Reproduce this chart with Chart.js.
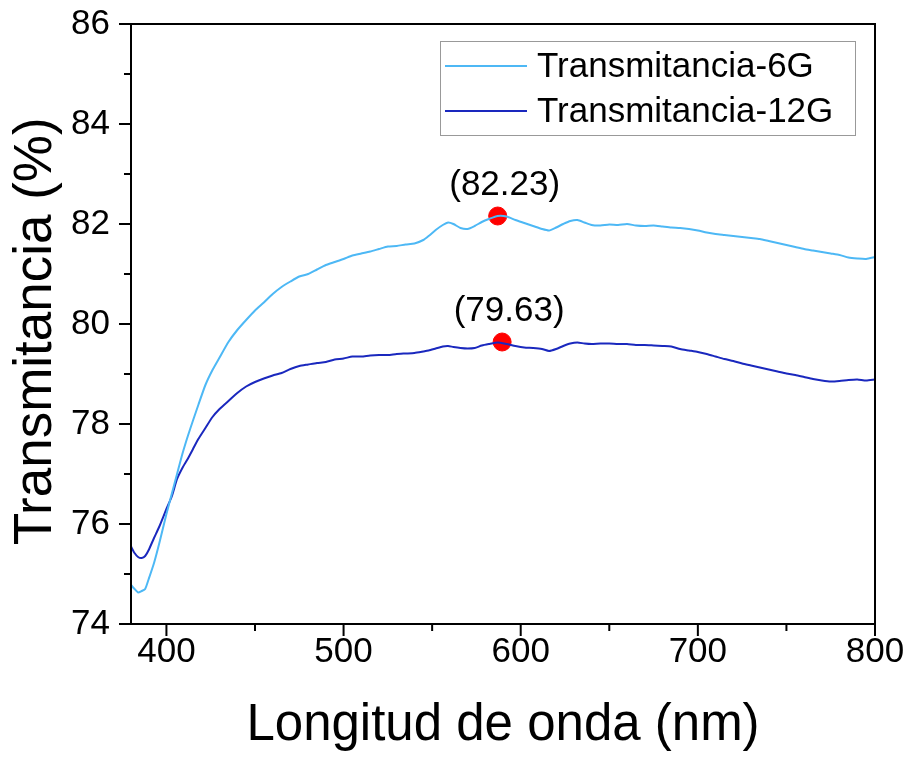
<!DOCTYPE html>
<html>
<head>
<meta charset="utf-8">
<script src="https://cdn.jsdelivr.net/npm/chart.js@4.4.1/dist/chart.umd.min.js"></script>
<style>
  html, body { margin: 0; padding: 0; background: #fff; }
</style>
</head>
<body>
<canvas id="chart" width="909" height="759"></canvas>
<script>
/* ============================================================
   TRANSMITANCIA 6G / 12G
   ============================================================ */

const wavelengths = [380, 382, 384, 386, 388, 390, 393, 396, 400, 403, 406, 409, 412, 415, 418, 422, 426, 430, 435, 440,
  445, 450, 455, 460, 465, 470, 475, 480, 485, 490, 495, 500, 505, 510, 515, 520, 525, 530, 535, 540,
  545, 548, 552, 556, 559, 562, 566, 570, 574, 578, 582, 587, 592, 597, 602, 607, 612, 616, 620, 624,
  628, 632, 636, 640, 645, 650, 655, 660, 665, 670, 675, 680, 685, 690, 695, 700, 705, 710, 715, 720,
  725, 730, 735, 740, 745, 750, 755, 760, 765, 770, 775, 780, 785, 790, 795, 800];

const trans6G = [74.78, 74.7, 74.63, 74.66, 74.7, 74.9, 75.22, 75.62, 76.2, 76.6, 77.0, 77.4, 77.75, 78.07, 78.38, 78.78, 79.08, 79.33, 79.64, 79.88,
  80.08, 80.27, 80.43, 80.6, 80.74, 80.85, 80.95, 81.0, 81.09, 81.18, 81.24, 81.3, 81.37, 81.41, 81.45, 81.5, 81.55, 81.56, 81.59, 81.61,
  81.68, 81.76, 81.88, 81.98, 82.03, 82.0, 81.92, 81.9, 81.96, 82.04, 82.1, 82.16, 82.15, 82.08, 82.02, 81.96, 81.9, 81.87, 81.93, 82.0,
  82.06, 82.08, 82.03, 81.98, 81.97, 81.99, 81.98, 82.0, 81.97, 81.96, 81.97, 81.95, 81.93, 81.92, 81.9, 81.87, 81.83, 81.8, 81.78, 81.76,
  81.74, 81.72, 81.7, 81.66, 81.62, 81.58, 81.54, 81.5, 81.47, 81.44, 81.41, 81.38, 81.33, 81.31, 81.3, 81.34];

const trans12G = [75.55, 75.42, 75.34, 75.32, 75.36, 75.48, 75.72, 75.95, 76.3, 76.55, 76.9, 77.12, 77.3, 77.5, 77.7, 77.92, 78.14, 78.3, 78.46, 78.62,
  78.75, 78.84, 78.91, 78.97, 79.02, 79.1, 79.16, 79.19, 79.22, 79.24, 79.29, 79.31, 79.35, 79.35, 79.37, 79.38, 79.38, 79.4, 79.41, 79.42,
  79.45, 79.47, 79.51, 79.55, 79.56, 79.54, 79.52, 79.51, 79.52, 79.57, 79.6, 79.63, 79.6, 79.56, 79.53, 79.52, 79.5, 79.46, 79.5, 79.56,
  79.61, 79.63, 79.61, 79.6, 79.61, 79.61, 79.6, 79.6, 79.58, 79.58, 79.57, 79.56, 79.55, 79.5, 79.47, 79.44, 79.4, 79.35, 79.3, 79.26,
  79.21, 79.17, 79.13, 79.09, 79.05, 79.01, 78.98, 78.94, 78.9, 78.87, 78.85, 78.86, 78.88, 78.89, 78.87, 78.89];

const seriesNames = ["Transmitancia-6G", "Transmitancia-12G"];
const seriesColors = ["#4DB8F5", "#1A28BE"];

// peak markers and their labels
const peakX = [587, 589.5];
const peakY = [82.16, 79.64];
const peakLabels = ["(82.23)", "(79.63)"];

const xMajor = [400, 500, 600, 700, 800];
const xMinor = [450, 550, 650, 750];
const yMajor = [74, 76, 78, 80, 82, 84, 86];
const yMinor = [75, 77, 79, 81, 83, 85];

const FONT = "'Liberation Sans', Arial, Helvetica, sans-serif";

function toPoints(xs, ys){
  return xs.map((x, i) => ({ x: x, y: ys[i] }));
}

// frame, outward ticks (major + minor), legend box, peak labels
const decorations = {
  id: "decorations",
  afterDraw(chart){
    const { ctx, chartArea: a, scales: { x, y } } = chart;
    ctx.save();
    ctx.strokeStyle = "#000";
    ctx.lineWidth = 2;
    ctx.strokeRect(a.left, a.top, a.right - a.left, a.bottom - a.top);

    ctx.beginPath();
    xMajor.forEach(v => { const p = x.getPixelForValue(v); ctx.moveTo(p, a.bottom); ctx.lineTo(p, a.bottom + 12); });
    xMinor.forEach(v => { const p = x.getPixelForValue(v); ctx.moveTo(p, a.bottom); ctx.lineTo(p, a.bottom + 7); });
    yMajor.forEach(v => { const p = y.getPixelForValue(v); ctx.moveTo(a.left, p); ctx.lineTo(a.left - 12, p); });
    yMinor.forEach(v => { const p = y.getPixelForValue(v); ctx.moveTo(a.left, p); ctx.lineTo(a.left - 7, p); });
    ctx.stroke();

    // peak labels
    ctx.fillStyle = "#000";
    ctx.font = "35px " + FONT;
    ctx.textAlign = "center";
    ctx.textBaseline = "middle";
    peakLabels.forEach((t, i) => {
      ctx.fillText(t, x.getPixelForValue(peakX[i]) + 7, y.getPixelForValue(peakY[i]) - 31);
    });

    // legend
    const lx = a.left + 309, ly = a.top + 17, lw = 415, lh = 94;
    ctx.strokeStyle = "#999";
    ctx.lineWidth = 1;
    ctx.strokeRect(lx + 0.5, ly + 0.5, lw, lh);
    ctx.textAlign = "left";
    seriesNames.forEach((name, i) => {
      const cy = ly + 25 + i * 45;
      ctx.strokeStyle = seriesColors[i];
      ctx.lineWidth = 2;
      ctx.beginPath();
      ctx.moveTo(lx + 5, cy);
      ctx.lineTo(lx + 87, cy);
      ctx.stroke();
      ctx.fillStyle = "#000";
      ctx.fillText(name, lx + 97, cy + 1);
    });
    ctx.restore();
  }
};

function noEdgePadding(s){
  s.paddingTop = 0;
  s.paddingBottom = 0;
  s.paddingLeft = 0;
  s.paddingRight = 0;
}

const ctx = document.getElementById("chart");
const chart = new Chart(ctx, {
  type: "line",
  data: {
    datasets: [
      {
        label: seriesNames[0],
        data: toPoints(wavelengths, trans6G),
        borderColor: seriesColors[0],
        borderWidth: 2,
        pointRadius: 0,
        tension: 0.2
      },
      {
        label: seriesNames[1],
        data: toPoints(wavelengths, trans12G),
        borderColor: seriesColors[1],
        borderWidth: 2,
        pointRadius: 0,
        tension: 0.2
      },
      {
        type: "scatter",
        label: "picos",
        data: toPoints(peakX, peakY),
        backgroundColor: "#FF0000",
        borderColor: "#FF0000",
        pointRadius: 9
      }
    ]
  },
  options: {
    responsive: false,
    animation: false,
    devicePixelRatio: 1,
    layout: { padding: { top: 24, right: 34, left: 0, bottom: 0 } },
    plugins: { legend: { display: false }, tooltip: { enabled: false } },
    scales: {
      x: {
        type: "linear",
        min: 380,
        max: 800,
        afterBuildTicks: s => { s.ticks = xMajor.map(v => ({ value: v })); },
        afterFit: s => { s.height = 135; noEdgePadding(s); },
        grid: { display: false, drawTicks: false },
        border: { display: false },
        ticks: { color: "#000", font: { family: FONT, size: 35 }, padding: 7, maxRotation: 0 },
        title: {
          display: true,
          text: "Longitud de onda (nm)",
          color: "#000",
          font: { family: FONT, size: 51 },
          padding: { top: 0, bottom: 2 }
        }
      },
      y: {
        min: 74,
        max: 86,
        afterBuildTicks: s => { s.ticks = yMajor.map(v => ({ value: v })); },
        afterFit: s => { s.width = 131; noEdgePadding(s); },
        grid: { display: false, drawTicks: false },
        border: { display: false },
        ticks: { color: "#000", font: { family: FONT, size: 35 }, padding: 21 },
        title: {
          display: true,
          // trailing space nudges the rotated title a little lower, as in the original
          text: "Transmitancia (%) ",
          color: "#000",
          font: { family: FONT, size: 53 },
          padding: { top: 5, bottom: 0 }
        }
      }
    }
  },
  plugins: [decorations]
});
</script>
</body>
</html>
